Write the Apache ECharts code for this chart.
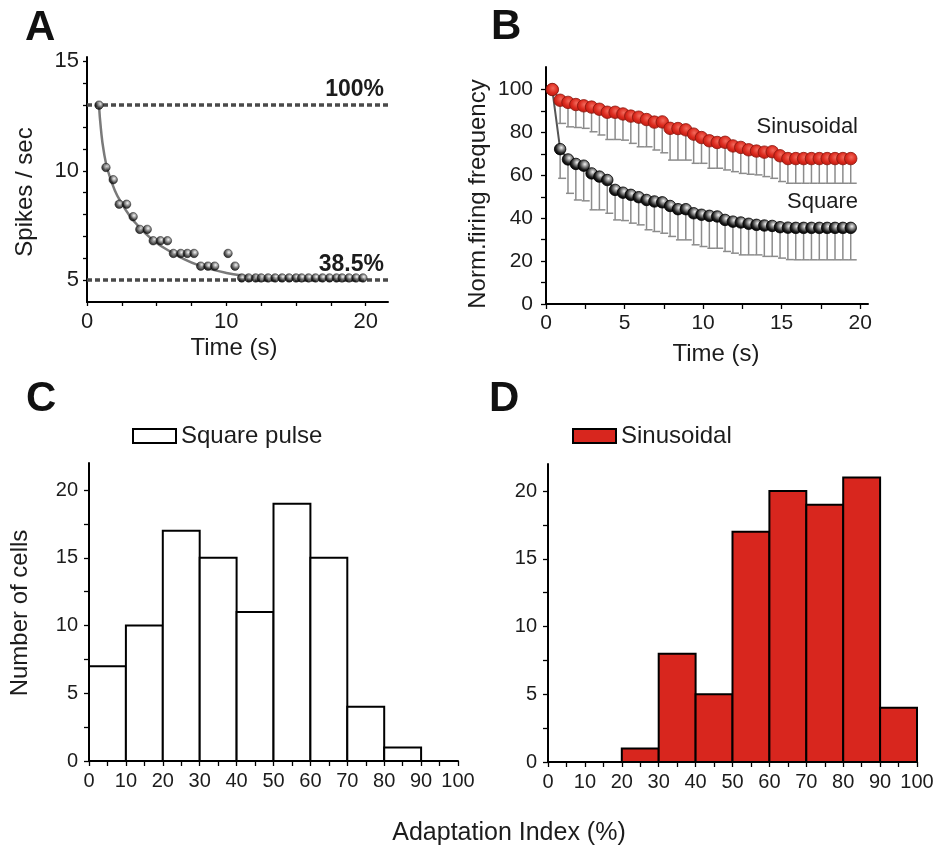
<!DOCTYPE html>
<html><head><meta charset="utf-8">
<script src="https://cdn.jsdelivr.net/npm/echarts@6/dist/echarts.min.js"></script>
<style>html,body{margin:0;padding:0;background:#fff}#c{width:942px;height:851px}</style>
</head><body><div id="c"></div>
<script>
// ---------- Panel A ----------
const aTime = [0.86,1.36,1.88,2.31,2.84,3.31,3.79,4.32,4.75,5.27,5.77,6.2,6.73,7.2,7.68,8.16,8.68,9.16,10.12,10.62,
  11.1,11.6,12.1,12.5,13.0,13.5,14.0,14.5,15.0,15.4,15.9,16.4,16.9,17.4,17.9,18.3,18.8,19.3,19.8];
const aRate = [13,10.15,9.59,8.47,8.47,7.9,7.32,7.32,6.8,6.8,6.8,6.22,6.22,6.22,6.22,5.64,5.64,5.64,6.22,5.64,
  5.1,5.1,5.1,5.1,5.1,5.1,5.1,5.1,5.1,5.1,5.1,5.1,5.1,5.1,5.1,5.1,5.1,5.1,5.1];
const fitTime = [0.86,1.0,1.2,1.5,2.0,2.5,3.0,3.5,4.0,5.0,6.0,7.0,8.0,9.0,10.0,11.0,12.0,13.0,14.0,16.0,18.0,19.8];
const fitRate = [13,11.9,10.9,10.0,9.1,8.5,8.0,7.6,7.25,6.7,6.3,5.95,5.68,5.48,5.33,5.22,5.15,5.1,5.08,5.06,5.05,5.05];
const refLevels = [13, 5];
const refLabels = ['100%', '38.5%'];

// ---------- Panel B ----------
const bTime = [0.4,0.9,1.4,1.9,2.4,2.9,3.4,3.9,4.4,4.9,5.4,5.9,6.4,6.9,7.4,7.9,8.4,8.9,9.4,9.9,
  10.4,10.9,11.4,11.9,12.4,12.9,13.4,13.9,14.4,14.9,15.4,15.9,16.4,16.9,17.4,17.9,18.4,18.9,19.4];
const sinMean = [100,95,94,93,92.4,91.8,90.8,89.4,89.4,88.6,87.6,87.1,86,84.8,84.9,81.9,81.8,81.2,79.2,77.6,
  76.1,75.3,75.4,73.7,73,71.9,71.3,70.8,71,69.1,67.8,67.8,67.8,67.8,67.8,67.8,67.8,67.8,67.8];
const sinSD = [0,10.8,11.4,10.7,10.5,11.5,12,12.7,12.7,12.2,12.7,13.8,12.7,13,14.4,14.8,14.7,14.1,13.6,12,
  12.8,12,12.9,12,12.1,11.4,11.1,11.4,12.4,12,11.5,11.5,11.5,11.5,11.5,11.5,11.5,11.5,11.5];
const sqMean = [100,72.2,67.4,65.3,64.5,60.9,59.4,57.8,53.2,51.9,50.9,49.8,48.5,47.8,47.4,45.7,44.2,44.2,42.3,41.6,
  41.1,40.8,39.2,38.4,38,37.4,36.9,36.6,36.4,35.8,35.6,35.5,35.5,35.5,35.5,35.5,35.5,35.5,35.5];
const sqSD = [0,13.6,15.8,16.8,16.4,17,15.5,15.5,14,13,13.2,12.9,13.9,14,14.4,14.2,14.3,14.3,14.7,14.8,
  15.1,14.8,14.7,14.7,15.1,14.5,14,14.4,14.2,14.4,14.9,14.9,14.9,14.9,14.9,14.9,14.9,14.9,14.9];

// ---------- Panels C & D ----------
const binStart = [0,10,20,30,40,50,60,70,80,90];
const binEnd = [10,20,30,40,50,60,70,80,90,100];
const squareCounts = [7,10,17,15,11,19,15,4,1,0];
const sinCounts = [0,0,1,8,5,17,20,19,21,4];

const FONT = 'Liberation Sans, Arial, Helvetica, sans-serif';
const TXT = '#1c1c1c';

const sphereBlack = {type:'radial', x:0.6, y:0.38, r:0.62, colorStops:[
  {offset:0, color:'#f4f4f4'},{offset:0.35, color:'#8a8a8a'},{offset:0.7, color:'#222'},{offset:1, color:'#000'}]};
const sphereRed = {type:'radial', x:0.55, y:0.4, r:0.65, colorStops:[
  {offset:0, color:'#f36a5c'},{offset:0.55, color:'#dc2a1e'},{offset:1, color:'#b3180f'}]};

function seq(a, b, s){ const r=[]; for(let v=a; v<=b+1e-9; v+=s) r.push(+v.toFixed(3)); return r; }

function valAxis(grid, min, max, ticks, labels, fs, margin, tickLen){
  return {gridIndex:grid, type:'value', min:min, max:max,
    axisLine:{onZero:false, lineStyle:{color:'#000', width:2}},
    axisTick:{show:true, length:tickLen, customValues:ticks, lineStyle:{color:'#000', width:1.3}},
    axisLabel:{customValues:labels, fontSize:fs, margin:margin, color:TXT, fontFamily:FONT},
    splitLine:{show:false}};
}

function histRender(fill){
  return function(params, api){
    const v = api.value(2);
    if (v <= 0) return null;
    const p0 = api.coord([api.value(0), v]);
    const p1 = api.coord([api.value(1), 0]);
    return {type:'rect', shape:{x:p0[0], y:p0[1], width:p1[0]-p0[0], height:p1[1]-p0[1]},
      style:{fill:fill, stroke:'#000', lineWidth:2}};
  };
}

function errRender(params, api){
  const x = api.value(0), m = api.value(1), sd = api.value(2);
  if (!sd) return null;
  const t = api.coord([x, m]), b = api.coord([x, m - sd]);
  return {type:'group', children:[
    {type:'line', shape:{x1:t[0], y1:t[1], x2:b[0], y2:b[1]}, style:{stroke:'#8c8c8c', lineWidth:1.5}},
    {type:'line', shape:{x1:b[0]-2, y1:b[1], x2:b[0]+6, y2:b[1]}, style:{stroke:'#8c8c8c', lineWidth:1.5}}
  ]};
}

const chart = echarts.init(document.getElementById('c'), null, {renderer:'canvas'});
const option = {
  animation:false,
  backgroundColor:'#fff',
  grid:[
    {left:87, top:57, width:301, height:245},
    {left:546, top:67, width:322, height:237},
    {left:89, top:463, width:369, height:298},
    {left:548, top:464, width:369, height:298}
  ],
  xAxis:[
    valAxis(0, 0, 21.6, seq(0,20,2.5), [0,10,20], 22, 9, 4),
    valAxis(1, 0, 20.5, seq(0,20,2.5), [0,5,10,15,20], 21, 9, 5),
    valAxis(2, 0, 100, seq(0,100,5), seq(0,100,10), 20, 10, 5),
    valAxis(3, 0, 100, seq(0,100,5), seq(0,100,10), 20, 10, 5)
  ],
  yAxis:[
    valAxis(0, 4, 15.2, seq(5,15,1), [5,10,15], 22, 8, 4),
    valAxis(1, 0, 110.5, seq(0,100,10), seq(0,100,20), 21, 13, 5),
    valAxis(2, 0, 22, seq(0,20,2.5), seq(0,20,5), 20, 11, 5),
    valAxis(3, 0, 22, seq(0,20,2.5), seq(0,20,5), 20, 11, 5)
  ],
  legend:[
    {left:127, top:419, itemWidth:43, itemHeight:14, selectedMode:false,
      textStyle:{fontSize:24, color:TXT, fontFamily:FONT},
      data:[{name:'Square pulse', icon:'rect', itemStyle:{color:'#fff', borderColor:'#000', borderWidth:2}}]},
    {left:567, top:419, itemWidth:43, itemHeight:14, selectedMode:false,
      textStyle:{fontSize:24, color:TXT, fontFamily:FONT},
      data:[{name:'Sinusoidal', icon:'rect', itemStyle:{color:'#d8261e', borderColor:'#000', borderWidth:2}}]}
  ],
  series:[
    // Panel A
    {type:'line', name:'fitA', xAxisIndex:0, yAxisIndex:0, smooth:true, showSymbol:false, z:3,
      lineStyle:{color:'#7a7a7a', width:2.5},
      data: fitTime.map((t,i)=>[t, fitRate[i]]),
      markLine:{silent:true, symbol:'none', z:2,
        lineStyle:{color:'#4a4a4a', type:[5,3], width:3.5},
        label:{position:'insideEndTop', distance:4, fontWeight:'bold', fontSize:23, color:TXT, fontFamily:FONT},
        data: refLevels.map((v,i)=>({yAxis:v, label:{formatter:refLabels[i]}}))}},
    {type:'scatter', name:'ptsA', xAxisIndex:0, yAxisIndex:0, symbolSize:8.5, z:4,
      itemStyle:{color:sphereBlack, borderColor:'#111', borderWidth:0.6},
      data: aTime.map((t,i)=>[t, aRate[i]])},
    // Panel B error bars
    {type:'custom', name:'errSq', xAxisIndex:1, yAxisIndex:1, z:2, renderItem:errRender,
      data: bTime.map((t,i)=>[t, sqMean[i], sqSD[i]])},
    {type:'custom', name:'errSin', xAxisIndex:1, yAxisIndex:1, z:2, renderItem:errRender,
      data: bTime.map((t,i)=>[t, sinMean[i], sinSD[i]])},
    {type:'line', name:'sqB', xAxisIndex:1, yAxisIndex:1, z:4, symbol:'circle', symbolSize:11.5,
      lineStyle:{color:'#555', width:2},
      itemStyle:{color:sphereBlack, borderColor:'#000', borderWidth:0.8},
      data: bTime.map((t,i)=>[t, sqMean[i]])},
    {type:'line', name:'sinB', xAxisIndex:1, yAxisIndex:1, z:5, symbol:'circle', symbolSize:12.5,
      lineStyle:{color:'#666', width:2},
      itemStyle:{color:sphereRed, borderColor:'#8a150c', borderWidth:0.8},
      data: bTime.map((t,i)=>[t, sinMean[i]])},
    // Panel C / D
    {type:'custom', name:'Square pulse', xAxisIndex:2, yAxisIndex:2, renderItem:histRender('#ffffff'),
      itemStyle:{color:'#fff', borderColor:'#000'},
      data: binStart.map((s,i)=>[s, binEnd[i], squareCounts[i]])},
    {type:'custom', name:'Sinusoidal', xAxisIndex:3, yAxisIndex:3, renderItem:histRender('#d8261e'),
      itemStyle:{color:'#d8261e', borderColor:'#000'},
      data: binStart.map((s,i)=>[s, binEnd[i], sinCounts[i]])}
  ],
  graphic:[
    {type:'text', x:25, y:28, style:{text:'A', font:'bold 42px '+FONT, fill:'#111', textVerticalAlign:'middle'}},
    {type:'text', x:491, y:27, style:{text:'B', font:'bold 42px '+FONT, fill:'#111', textVerticalAlign:'middle'}},
    {type:'text', x:26, y:399, style:{text:'C', font:'bold 42px '+FONT, fill:'#111', textVerticalAlign:'middle'}},
    {type:'text', x:489, y:399, style:{text:'D', font:'bold 42px '+FONT, fill:'#111', textVerticalAlign:'middle'}},
    {type:'text', x:25, y:192, rotation:Math.PI/2, style:{text:'Spikes / sec', font:'24px '+FONT, fill:TXT, textAlign:'center', textVerticalAlign:'middle'}},
    {type:'text', x:234, y:348, style:{text:'Time (s)', font:'24px '+FONT, fill:TXT, textAlign:'center', textVerticalAlign:'middle'}},
    {type:'text', x:478, y:194, rotation:Math.PI/2, style:{text:'Norm.firing frequency', font:'24px '+FONT, fill:TXT, textAlign:'center', textVerticalAlign:'middle'}},
    {type:'text', x:716, y:354, style:{text:'Time (s)', font:'24px '+FONT, fill:TXT, textAlign:'center', textVerticalAlign:'middle'}},
    {type:'text', x:858, y:127, style:{text:'Sinusoidal', font:'22px '+FONT, fill:TXT, textAlign:'right', textVerticalAlign:'middle'}},
    {type:'text', x:858, y:202, style:{text:'Square', font:'22px '+FONT, fill:TXT, textAlign:'right', textVerticalAlign:'middle'}},
    {type:'text', x:20, y:613, rotation:Math.PI/2, style:{text:'Number of cells', font:'24px '+FONT, fill:TXT, textAlign:'center', textVerticalAlign:'middle'}},
    {type:'text', x:509, y:833, style:{text:'Adaptation Index (%)', font:'25px '+FONT, fill:TXT, textAlign:'center', textVerticalAlign:'middle'}}
  ]
};
chart.setOption(option);
</script>
</body></html>
